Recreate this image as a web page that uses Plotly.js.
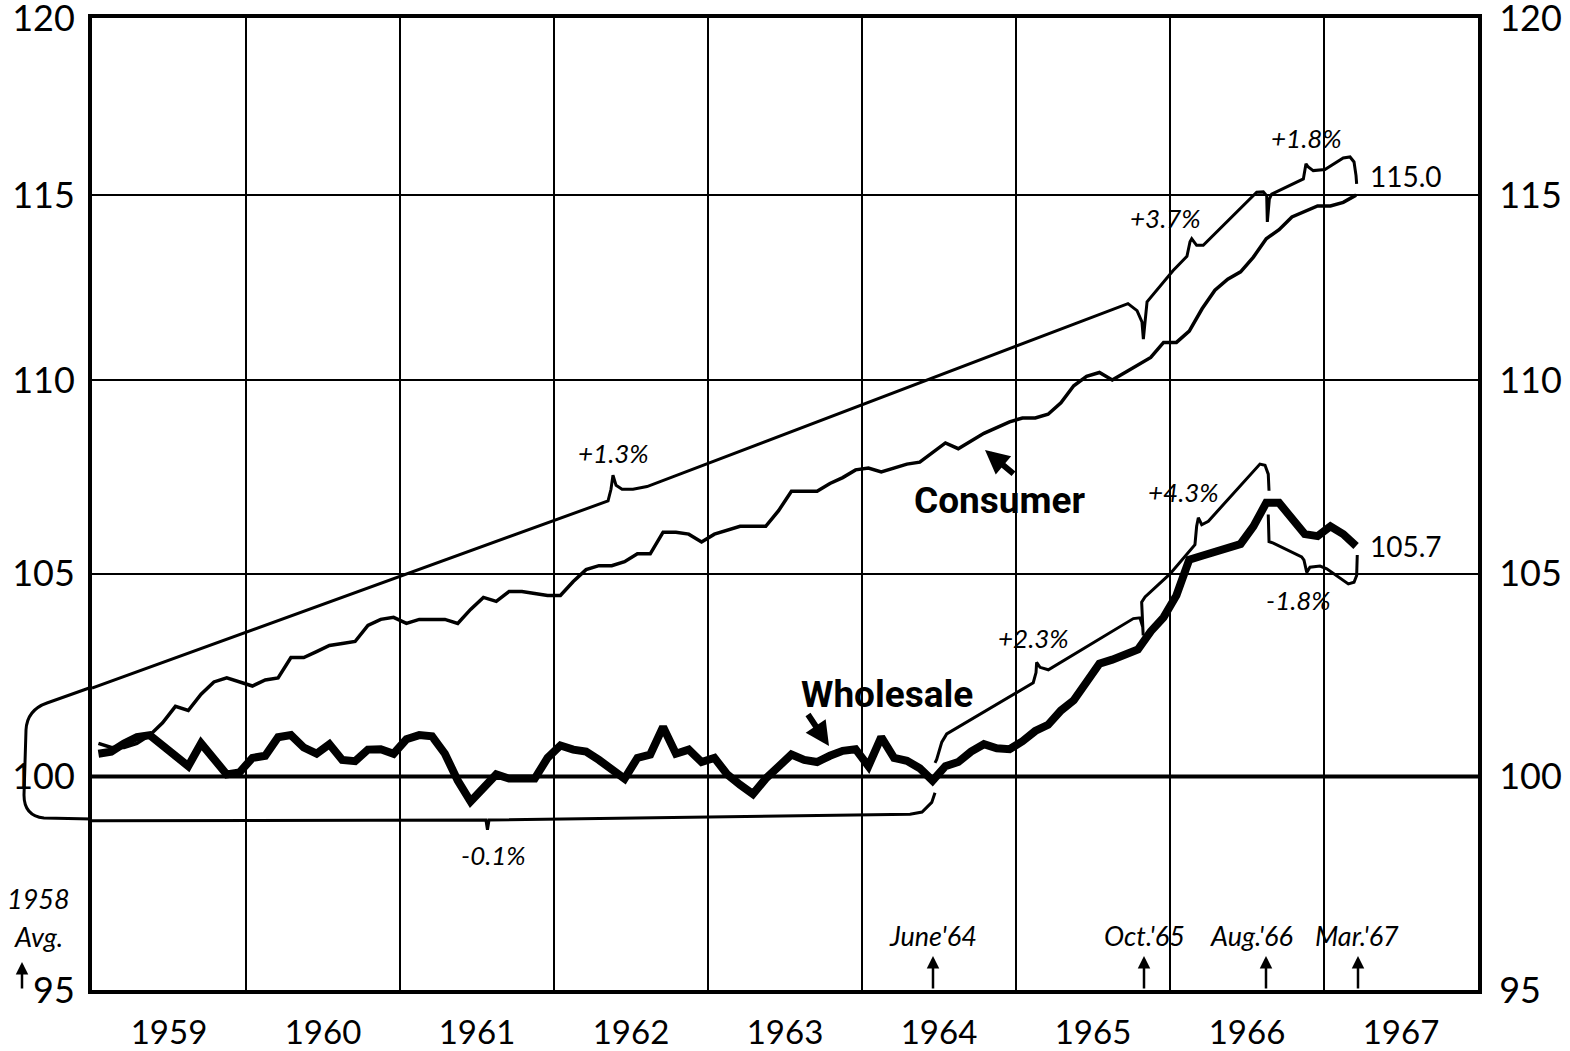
<!DOCTYPE html>
<html>
<head>
<meta charset="utf-8">
<script src="https://cdn.plot.ly/plotly-3.0.1.min.js"></script>
<style>html,body{margin:0;padding:0;background:#fff;}#chart{width:1570px;height:1051px;}</style>
</head>
<body>
<div id="chart"></div>
<script>
// ---------------- DATA ----------------
const years = [1959, 1960, 1961, 1962, 1963, 1964, 1965, 1966, 1967];
const yearLabels = ["1959", "1960", "1961", "1962", "1963", "1964", "1965", "1966", "1967"];
const yTicks = [95, 100, 105, 110, 115, 120];
const yTickLabels = ["95", "100", "105", "110", "115", "120"];

// Monthly index values, Jan 1959 - Mar 1967
const consumer = [
  100.8, 100.7, 100.7, 100.8, 101.0, 101.3, 101.7, 101.6, 102.0, 102.3, 102.4, 102.3,
  102.2, 102.35, 102.4, 102.9, 102.9, 103.05, 103.2, 103.25, 103.3, 103.7, 103.85, 103.9,
  103.75, 103.85, 103.85, 103.85, 103.75, 104.1, 104.4, 104.3, 104.55, 104.55, 104.5, 104.45,
  104.45, 104.8, 105.1, 105.2, 105.2, 105.3, 105.5, 105.5, 106.05, 106.05, 106.0, 105.8,
  106.0, 106.1, 106.2, 106.2, 106.2, 106.6, 107.1, 107.1, 107.1, 107.3, 107.45, 107.65,
  107.7, 107.6, 107.7, 107.8, 107.85, 108.1, 108.35, 108.2, 108.4, 108.6, 108.75, 108.9,
  109.0, 109.0, 109.1, 109.4, 109.85, 110.1, 110.2, 110.0, 110.2, 110.4, 110.6, 111.0,
  111.0, 111.3, 111.9, 112.4, 112.7, 112.9, 113.3, 113.8, 114.05, 114.4, 114.55, 114.7,
  114.7, 114.8, 115.0
];
const wholesale = [
  100.55, 100.6, 100.8, 100.95, 101.0, 100.75, 100.55, 100.25, 100.8, 100.4, 100.05, 100.1,
  100.45, 100.5, 100.95, 101.0, 100.7, 100.55, 100.78, 100.4, 100.37, 100.65, 100.66, 100.55,
  100.9, 101.0, 100.97, 100.55, 99.9, 99.4, 99.75, 100.05, 99.95, 99.95, 99.95, 100.45,
  100.75, 100.65, 100.6, 100.4, 100.2, 99.95, 100.45, 100.53, 101.2, 100.55, 100.65, 100.35,
  100.45, 100.05, 99.8, 99.58, 99.95, 100.25, 100.53, 100.4, 100.35, 100.5, 100.62, 100.66,
  100.25, 100.95, 100.45, 100.38, 100.2, 99.9, 100.25, 100.35, 100.6, 100.78, 100.68, 100.66,
  100.85, 101.1, 101.25, 101.6, 101.85, 102.3, 102.75, 102.85, 102.95, 103.1, 103.55, 103.9,
  104.45, 105.35, 105.45, 105.55, 105.62, 105.75, 106.2, 106.8, 106.8, 106.4, 106.0, 105.95,
  106.2, 106.0, 105.7
];

// Bracketed trend lines (x in years, y in index units)
const trendConsumerX = [1959.000, 1962.351, 1962.370, 1962.383, 1962.403, 1962.442, 1962.513, 1962.604,
  1965.727, 1965.786, 1965.818, 1965.827, 1965.838, 1965.851, 1966.019, 1966.110, 1966.130, 1966.141,
  1966.173, 1966.216, 1966.563, 1966.606, 1966.628, 1966.632, 1966.645, 1966.660, 1966.866, 1966.883,
  1966.898, 1966.930, 1967.006, 1967.082, 1967.125, 1967.169, 1967.195, 1967.208, 1967.212];
const trendConsumerY = [102.15, 106.85, 107.15, 107.51, 107.25, 107.15, 107.15, 107.22,
  112.04, 111.85, 111.55, 111.09, 111.55, 112.09, 112.93, 113.32, 113.72, 113.80,
  113.62, 113.62, 115.08, 115.09, 114.98, 114.26, 114.89, 115.03, 115.45, 115.87,
  115.78, 115.68, 115.71, 115.92, 116.03, 116.06, 115.92, 115.54, 115.31];

const trendWholesaleAX = [1959.000, 1961.558, 1961.568, 1961.578, 1964.312, 1964.390, 1964.453, 1964.474];
const trendWholesaleAY = [98.94, 98.96, 98.73, 98.96, 99.10, 99.15, 99.38, 99.61];

const trendWholesaleBX = [1964.474, 1964.485, 1964.518, 1964.550, 1965.112, 1965.130, 1965.134, 1965.156,
  1965.210, 1965.762, 1965.805, 1965.823, 1965.826, 1965.816, 1965.838, 1966.000, 1966.162, 1966.173,
  1966.184, 1966.206, 1966.249, 1966.584, 1966.617, 1966.638, 1966.643];
const trendWholesaleBY = [100.33, 100.41, 100.83, 101.03, 102.28, 102.53, 102.78, 102.66,
  102.60, 103.87, 103.89, 103.66, 103.45, 104.28, 104.41, 104.99, 105.73, 106.20,
  106.42, 106.24, 106.33, 107.80, 107.77, 107.54, 107.11];

const trendWholesaleCX = [1966.638, 1966.643, 1966.671, 1966.855, 1966.870, 1966.888, 1966.909, 1966.974,
  1967.018, 1967.158, 1967.195, 1967.212, 1967.216];
const trendWholesaleCY = [106.50, 105.81, 105.77, 105.42, 105.34, 105.03, 105.16, 105.19,
  105.12, 104.74, 104.78, 104.95, 105.47];

const rateLabels = ["+1.3%", "-0.1%", "+2.3%", "+4.3%", "-1.8%", "+3.7%", "+1.8%"];
const endLabels = ["115.0", "105.7"];
const seriesLabels = ["Consumer", "Wholesale"];
const dateMarks = ["June'64", "Oct.'65", "Aug.'66", "Mar.'67"];

// ---------------- BUILD ----------------
const monthX = [];
for (const y of years) {
  for (let m = 1; m <= 12; m++) {
    if (monthX.length < consumer.length) monthX.push(y + (m - 0.5) / 12);
  }
}

const L = 92, R = 1478, T = 18, B = 990;
const PX = px => (px - L) / (R - L);
const PY = py => (B - py) / (B - T);

const yr = [Math.log10(95) - 1e-5, Math.log10(120) + 1e-5];
const numFont = "Lato, 'Open Sans', sans-serif";
const lineStyle = {color: '#000', width: 3, shape: 'linear'};

const traces = [
  {x: [1959, 1968], y: [100, 100], yaxis: 'y2', mode: 'lines', line: {color: '#000', width: 4}, hoverinfo: 'skip'},
  {x: trendConsumerX, y: trendConsumerY, mode: 'lines', line: lineStyle, hoverinfo: 'skip'},
  {x: trendWholesaleAX, y: trendWholesaleAY, mode: 'lines', line: lineStyle, hoverinfo: 'skip'},
  {x: trendWholesaleBX, y: trendWholesaleBY, mode: 'lines', line: lineStyle, hoverinfo: 'skip'},
  {x: trendWholesaleCX, y: trendWholesaleCY, mode: 'lines', line: lineStyle, hoverinfo: 'skip'},
  {x: monthX, y: consumer, mode: 'lines', name: 'Consumer', line: {color: '#000', width: 3.5}},
  {x: monthX, y: wholesale, mode: 'lines', name: 'Wholesale', line: {color: '#000', width: 8}}
];

function pathFromPx(cmds) {
  return cmds.map(c => c[0] + ' ' + c.slice(1).map((v, i) => (i % 2 === 0 ? PX(v) : PY(v)).toFixed(5)).join(',')).join(' ');
}

const shapes = [
  {type: 'path', xref: 'paper', yref: 'paper',
   path: pathFromPx([['M', 92, 687], ['L', 47, 703], ['Q', 27, 710, 26, 730], ['L', 24, 795], ['Q', 24, 816, 44, 818], ['L', 92, 819]]),
   line: {color: '#000', width: 3}}
];

const italic = {family: numFont, size: 26, color: '#000', style: 'italic'};
const italicBig = {family: numFont, size: 27, color: '#000', style: 'italic'};
const ann = [];
function addText(text, px, py, font, xanchor) {
  ann.push({xref: 'paper', yref: 'paper', x: PX(px), y: PY(py), text: text, showarrow: false,
    font: font, xanchor: xanchor || 'center', yanchor: 'middle'});
}
function addArrow(px, py, ax, ay, width, head, size) {
  ann.push({xref: 'paper', yref: 'paper', x: PX(px), y: PY(py), text: '', showarrow: true,
    ax: ax, ay: ay, arrowhead: head, arrowsize: size, arrowwidth: width, arrowcolor: '#000', standoff: 0});
}
const ratePos = [[613, 453], [493, 855], [1033, 638], [1183, 492], [1298, 600], [1165, 218], [1306, 138]];
rateLabels.forEach((t, i) => addText(t, ratePos[i][0], ratePos[i][1], italic));
addText(endLabels[0], 1368, 176, {family: numFont, size: 28, color: '#000'}, 'left');
addText(endLabels[1], 1368, 546, {family: numFont, size: 28, color: '#000'}, 'left');
const boldCond = {family: "Roboto, 'DejaVu Sans', sans-serif", size: 37, color: '#000', weight: 700};
addText(seriesLabels[0], 1000, 500, boldCond);
addText(seriesLabels[1], 887, 694, boldCond);
addText('1958', 38, 898, italicBig);
addText('Avg.', 38, 936, italicBig);
const markPos = [933, 1144, 1251, 1357];
const markArrowX = [933, 1144, 1266, 1358];
dateMarks.forEach((t, i) => {
  addText(t, markPos[i], 935, italicBig);
  addArrow(markArrowX[i], 956, 0, 34, 2.5, 2, 1);
});
addArrow(22, 962, 0, 28, 2.5, 2, 1);
addArrow(985, 450, 30, 25, 6, 2, 0.8);
addArrow(829, 746, -22, -33, 6, 2, 0.8);

const layout = {
  width: 1570, height: 1051,
  margin: {l: L, r: 1570 - R, t: T, b: 1051 - B, pad: 0},
  paper_bgcolor: '#fff', plot_bgcolor: '#fff',
  showlegend: false,
  xaxis: {
    range: [1959, 1968], showgrid: false, zeroline: false,
    tickmode: 'array', tickvals: years.map(y => y + 0.5), ticktext: yearLabels,
    ticks: '', ticklabelstandoff: 10, ticklabeloverflow: 'allow',
    tickfont: {family: numFont, size: 33, color: '#000'},
    showline: true, linecolor: '#000', linewidth: 4, mirror: true,
    minor: {tickmode: 'array', tickvals: years.slice(1), showgrid: true, gridcolor: '#000', gridwidth: 1.5, ticks: ''}
  },
  yaxis: {
    type: 'log', range: yr, tickmode: 'array', tickvals: yTicks, ticktext: yTickLabels,
    showgrid: true, gridcolor: '#000', gridwidth: 2, zeroline: false,
    ticks: '', ticklabelstandoff: 6, ticklabeloverflow: 'allow',
    tickfont: {family: numFont, size: 36, color: '#000'},
    showline: true, linecolor: '#000', linewidth: 4
  },
  yaxis2: {
    type: 'log', range: yr, overlaying: 'y', side: 'right', tickmode: 'array', tickvals: yTicks, ticktext: yTickLabels,
    showgrid: false, zeroline: false, ticks: '', ticklabelstandoff: 10, ticklabeloverflow: 'allow',
    tickfont: {family: numFont, size: 36, color: '#000'},
    showline: true, linecolor: '#000', linewidth: 4
  },
  shapes: shapes,
  annotations: ann
};

Plotly.newPlot('chart', traces, layout, {displayModeBar: false, staticPlot: true});
</script>
</body>
</html>
